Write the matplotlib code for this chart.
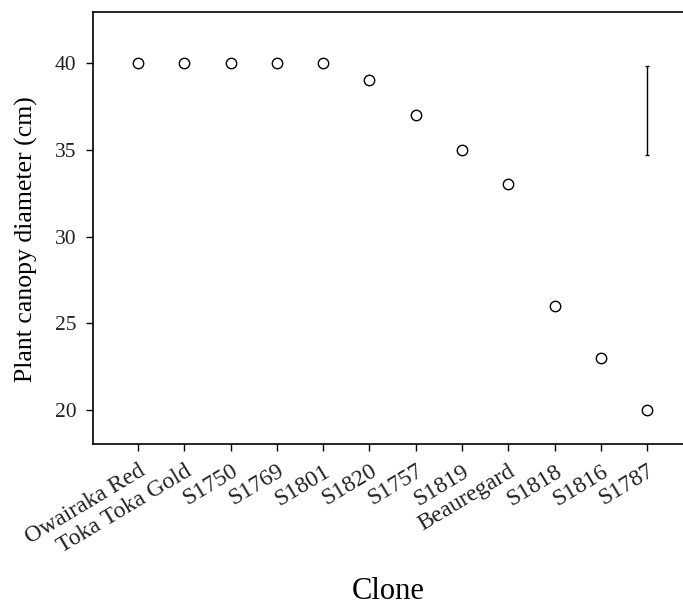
import matplotlib
matplotlib.use('Agg')
import matplotlib.pyplot as plt

plt.rcParams['font.family'] = ['Liberation Serif', 'DejaVu Serif']

# Clone means
clones = ['Owairaka Red', 'Toka Toka Gold', 'S1750', 'S1769', 'S1801', 'S1820',
          'S1757', 'S1819', 'Beauregard', 'S1818', 'S1816', 'S1787']
diameter = [40, 40, 40, 40, 40, 39, 37, 35, 33, 26, 23, 20]

# LSD bar drawn in the top right corner
lsd_centre = 37.27
lsd_half = 2.56

fig = plt.figure(figsize=(6.83, 6.07), dpi=100)
ax = fig.add_axes([93 / 683, 1 - 444 / 607, 592 / 683, 432 / 607])

x = list(range(1, len(clones) + 1))
ax.plot(x, diameter, 'o', mfc='white', mec='black', mew=1.0, ms=7.5, ls='none')
ax.errorbar([x[-1]], [lsd_centre], yerr=[lsd_half], fmt='none', ecolor='black',
            elinewidth=1.0, capsize=1.5, capthick=1.0)

ax.set_xlim(0.026, 12.82)
ax.set_ylim(18.04, 42.94)
ax.set_yticks([20, 25, 30, 35, 40])
ax.set_xticks(x)
ax.set_xticklabels(clones, rotation=31, ha='right', rotation_mode='anchor')
ax.tick_params(axis='both', length=5, width=1, colors='black',
               labelcolor='#222222')
ax.tick_params(axis='y', labelsize=15.5, pad=7)
ax.tick_params(axis='x', labelsize=17, pad=7)
for s in ax.spines.values():
    s.set_linewidth(1.2)

ax.set_ylabel('Plant canopy diameter (cm)', fontsize=18.5, va='center')
ax.yaxis.set_label_coords(-0.113, 0.474)
fig.text((93 + 683) / 2 / 683, 1 - 599 / 607, 'Clone', ha='center', va='baseline',
         fontsize=22)

fig.savefig('out.png', dpi=100)
